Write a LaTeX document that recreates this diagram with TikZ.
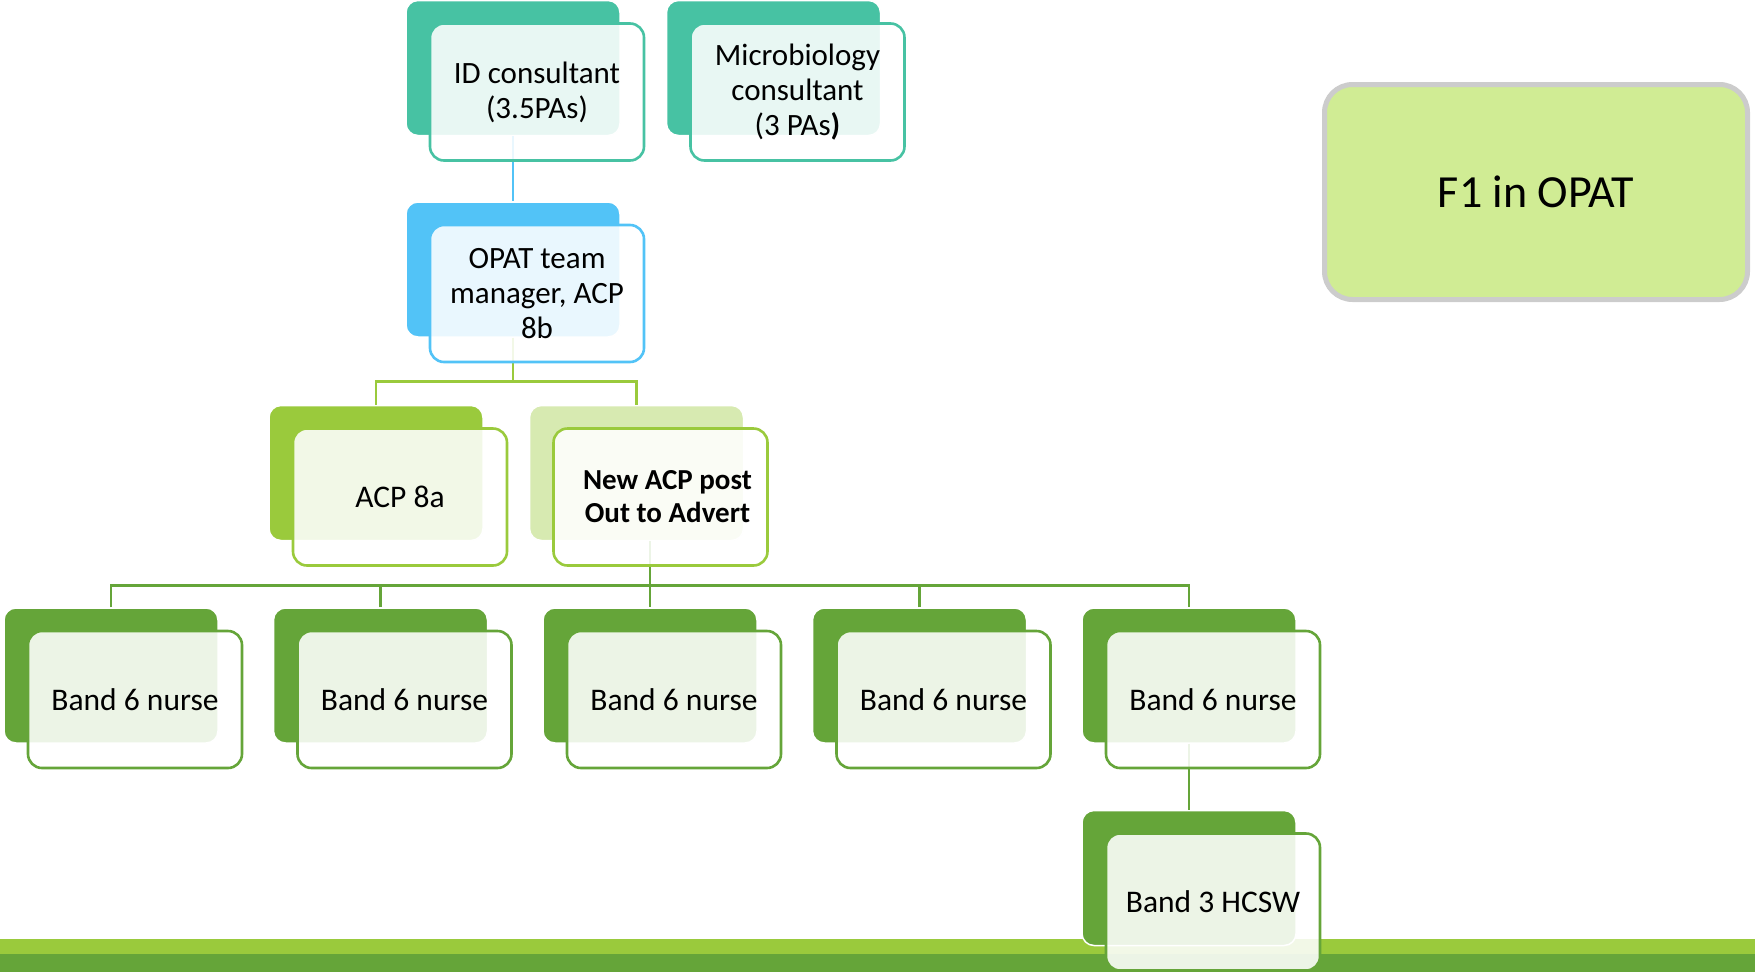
\documentclass[tikz,border=0pt]{standalone}
\usepackage{fontspec}
\setmainfont{Carlito}
\usetikzlibrary{positioning}

\definecolor{tealC}{HTML}{47C2A3}
\definecolor{blueC}{HTML}{52C3F7}
\definecolor{limeC}{HTML}{9ACA3C}
\definecolor{paleC}{HTML}{D7EAB1}
\definecolor{grassC}{HTML}{65A539}
\definecolor{fOneC}{HTML}{D0EC94}

\begin{document}
\begin{tikzpicture}[
    x=1pt, y=-1pt,
    back/.style={draw=white, line width=1.5pt, rounded corners=12pt, minimum width=214pt, minimum height=135pt, inner sep=0pt},
    front/.style={draw, line width=2.6pt, rounded corners=14pt, fill=white, fill opacity=0.88, text opacity=1, minimum width=214pt, minimum height=137pt, align=center, inner sep=0pt, font=\fontsize{31.5}{35}\selectfont},
    link/.style={line width=2.6pt},
    node distance=54pt
]
    \useasboundingbox (0,0) rectangle (1755,972);

    % Footer bars
    \fill[limeC] (0,939) rectangle (1755,954);
    \fill[grassC] (0,954) rectangle (1755,972);

    % Back panels
    \node[back, fill=tealC] (idB) at (513,68) {};
    \node[back, fill=tealC, right=45pt of idB] (micB) {};
    \node[back, fill=blueC, below=65pt of idB] (opatB) {};
    \node[back, fill=limeC, below=67pt of opatB, xshift=-137pt] (acpB) {};
    \node[back, fill=paleC, right=45pt of acpB] (nacpB) {};
    \node[back, fill=grassC, below=66pt of acpB, xshift=-265pt] (b1B) {};
    \node[back, fill=grassC, right=of b1B] (b2B) {};
    \node[back, fill=grassC, right=of b2B] (b3B) {};
    \node[back, fill=grassC, right=of b3B] (b4B) {};
    \node[back, fill=grassC, right=of b4B] (b5B) {};
    \node[back, fill=grassC, below=66pt of b5B] (hcswB) {};

    % Connections
    \draw[link, blueC] (idB) -- (opatB);
    \draw[link, limeC] (acpB.north) -- ++(0,-23) coordinate (acpbus) -| (nacpB.north);
    \draw[link, limeC] (opatB.south) -- (opatB.south |- acpbus);
    \draw[link, grassC] (b1B.north) -- ++(0,-22) coordinate (bandbus) -| (b5B.north);
    \draw[link, grassC] (b2B.north) -- (b2B.north |- bandbus);
    \draw[link, grassC] (b4B.north) -- (b4B.north |- bandbus);
    \draw[link, grassC] (nacpB.south -| b3B.north) -- (b3B.north);
    \draw[link, grassC] (b5B.south) -- (hcswB.north);

    % Front cards
    \node[front, draw=tealC, xshift=24pt, yshift=-24pt, font=\fontsize{31}{35}\selectfont] (id) at (idB) {ID consultant\\(3.5PAs)};
    \node[front, draw=tealC, xshift=24pt, yshift=-24pt, font=\fontsize{31}{35}\selectfont] (mic) at (micB) {Microbiology\\consultant\\(3 PAs\textbf{)}};
    \node[front, draw=blueC, xshift=24pt, yshift=-24pt, font=\fontsize{31}{35}\selectfont] (opat) at (opatB) {OPAT team\\manager, ACP\\8b};
    \node[front, draw=limeC, xshift=24pt, yshift=-24pt] (acp) at (acpB) {ACP 8a};
    \node[front, draw=limeC, xshift=24pt, yshift=-24pt, font=\fontsize{29}{33}\selectfont\bfseries] (nacp) at (nacpB) {\hspace*{14pt}New ACP post\\\hspace*{14pt}Out to Advert};
    \node[front, draw=grassC, xshift=24pt, yshift=-24pt] (b1) at (b1B) {Band 6 nurse};
    \node[front, draw=grassC, xshift=24pt, yshift=-24pt] (b2) at (b2B) {Band 6 nurse};
    \node[front, draw=grassC, xshift=24pt, yshift=-24pt] (b3) at (b3B) {Band 6 nurse};
    \node[front, draw=grassC, xshift=24pt, yshift=-24pt] (b4) at (b4B) {Band 6 nurse};
    \node[front, draw=grassC, xshift=24pt, yshift=-24pt] (b5) at (b5B) {Band 6 nurse};
    \node[front, draw=grassC, xshift=24pt, yshift=-24pt] (hcsw) at (hcswB) {Band 3 HCSW};

    % Title card
    \node[draw=gray!40, line width=5pt, rounded corners=28pt, fill=fOneC, minimum width=423pt, minimum height=215pt, font=\fontsize{46}{52}\selectfont] (fone) at (1536,192) {\raisebox{-4pt}{F1 in OPAT}};
\end{tikzpicture}
\end{document}
